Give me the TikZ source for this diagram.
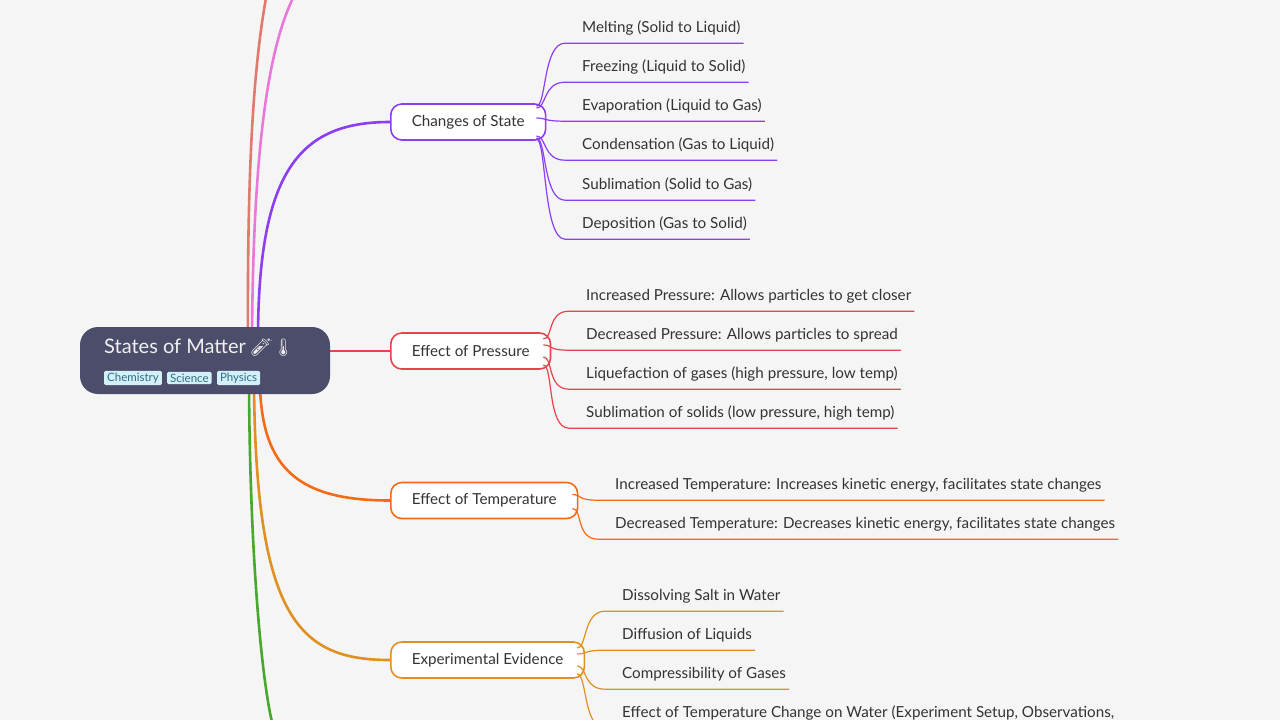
\documentclass[tikz,border=0pt]{standalone}
\usepackage{fontspec}
\setmainfont{Lato}
\newfontfamily\emojifont{Noto Emoji}
\usetikzlibrary{positioning,calc,backgrounds}
\definecolor{ink}{HTML}{333333}
\definecolor{paper}{HTML}{F5F5F5}
\definecolor{rootfill}{HTML}{4B4D6B}
\definecolor{tagfill}{HTML}{D3F0F8}
\definecolor{tagtext}{HTML}{2E6E86}
\definecolor{cpurple}{HTML}{8B3FF0}
\definecolor{cred}{HTML}{E5444F}
\definecolor{corange}{HTML}{F56A16}
\definecolor{cgold}{HTML}{E0901F}
\definecolor{cgreen}{HTML}{47A82C}
\definecolor{csalmon}{HTML}{E07A6E}
\definecolor{cpink}{HTML}{E879D8}

\tikzset{
	topic/.style={draw=#1, line width=1.6pt, rounded corners=11pt, fill=white, minimum height=36pt,
		inner xsep=21pt, anchor=west, text=ink, font=\fontsize{15.2}{18}\selectfont},
	leaf/.style={anchor=west, inner xsep=0pt, inner ysep=8pt, text height=11pt, text depth=3pt,
		text=ink, font=\fontsize{15.2}{18}\selectfont},
	tag/.style={fill=tagfill, text=tagtext, rounded corners=1.5pt, inner xsep=3pt, inner ysep=2pt,
		font=\fontsize{11.5}{13}\selectfont},
	branch/.style={draw=#1, line width=2.6pt},
	twig/.style={draw=#1, line width=1.2pt},
}

\begin{document}
\begin{tikzpicture}[x=1pt,y=-1pt]
	\useasboundingbox (0,0) rectangle (1280,720);
	\clip (0,0) rectangle (1280,720);

	% root
	\node[fill=rootfill, rounded corners=18pt, minimum width=250pt, minimum height=67pt] (root) at (205,360.5) {};
	\node[anchor=west, text={rgb,255:red,240;green,240;blue,240}, font=\fontsize{20}{24}\selectfont, inner sep=0pt]
		(title) at (104,348) {States of Matter {\emojifont\fontsize{17}{20}\selectfont 🧪🌡}};
	\node[tag, anchor=west] (chem) at (104,378) {Chemistry};
	\node[tag, right=5pt of chem] (sci) {Science};
	\node[tag, right=5pt of sci] (phys) {Physics};

	% main topics
	\node[topic=cpurple] (cs) at (390,122) {Changes of State};
	\node[topic=cred] (ep) at (390,351) {Effect of Pressure};
	\node[topic=corange] (et) at (390,500.5) {Effect of Temperature};
	\node[topic=cgold] (ee) at (390,660) {Experimental Evidence};

	\begin{scope}[on background layer]
		\fill[paper] (0,0) rectangle (1280,720);
		\draw[branch=csalmon] (248,340) .. controls (247,150) and (255,60) .. (266,-2);
		\draw[branch=cpink] (252,340) .. controls (253,150) and (268,50) .. (293,-2);
		\draw[branch=cpurple] (258,340) .. controls (258,170) and (300,122) .. (cs.west);
		\draw[branch=cred] (root.east |- ep.west) -- (ep.west);
		\draw[branch=corange] (260,385) .. controls (262,470) and (300,500.5) .. (et.west);
		\draw[branch=cgold] (254,385) .. controls (256,620) and (300,660) .. (ee.west);
		\draw[branch=cgreen] (249,385) .. controls (250,560) and (262,680) .. (272,722);
	\end{scope}

	% leaves
	\foreach \ty/\dy/\txt [count=\i] in {28/-16/Melting (Solid to Liquid), 67/-14/Freezing (Liquid to Solid),
		106/-4/Evaporation (Liquid to Gas), 145/14/Condensation (Gas to Liquid),
		185/16/Sublimation (Solid to Gas), 224/17/Deposition (Gas to Solid)} {
		\node[leaf] (csl\i) at (582,\ty) {\txt};
		\draw[twig=cpurple] ($(cs.east)+(-10,\dy)$) .. controls +(10,0) and +(-22,0) .. ($(csl\i.south west)+(-17,0)$)
			-- ($(csl\i.south east)+(3,0)$);
	}
	\foreach \ty/\dy/\txt [count=\i] in {296/-12/Increased Pressure: Allows particles to get closer,
		335/-6/Decreased Pressure: Allows particles to spread,
		374/6/{Liquefaction of gases (high pressure, low temp)},
		413/14/{Sublimation of solids (low pressure, high temp)}} {
		\node[leaf] (epl\i) at (586,\ty) {\txt};
		\draw[twig=cred] ($(ep.east)+(-8,\dy)$) .. controls +(10,0) and +(-22,0) .. ($(epl\i.south west)+(-17,0)$)
			-- ($(epl\i.south east)+(3,0)$);
	}
	\foreach \ty/\dy/\txt [count=\i] in {485/-6/{Increased Temperature: Increases kinetic energy, facilitates state changes},
		524/8/{Decreased Temperature: Decreases kinetic energy, facilitates state changes}} {
		\node[leaf] (etl\i) at (615,\ty) {\txt};
		\draw[twig=corange] ($(et.east)+(-6,\dy)$) .. controls +(10,0) and +(-22,0) .. ($(etl\i.south west)+(-17,0)$)
			-- ($(etl\i.south east)+(3,0)$);
	}
	\foreach \ty/\dy/\txt [count=\i] in {596/-12/Dissolving Salt in Water, 635/-6/Diffusion of Liquids,
		674/6/Compressibility of Gases,
		713/14/{Effect of Temperature Change on Water (Experiment Setup, Observations,}} {
		\node[leaf] (eel\i) at (622,\ty) {\txt};
		\draw[twig=cgold] ($(ee.east)+(-8,\dy)$) .. controls +(10,0) and +(-22,0) .. ($(eel\i.south west)+(-17,0)$)
			-- ($(eel\i.south east)+(3,0)$);
	}
\end{tikzpicture}
\end{document}
